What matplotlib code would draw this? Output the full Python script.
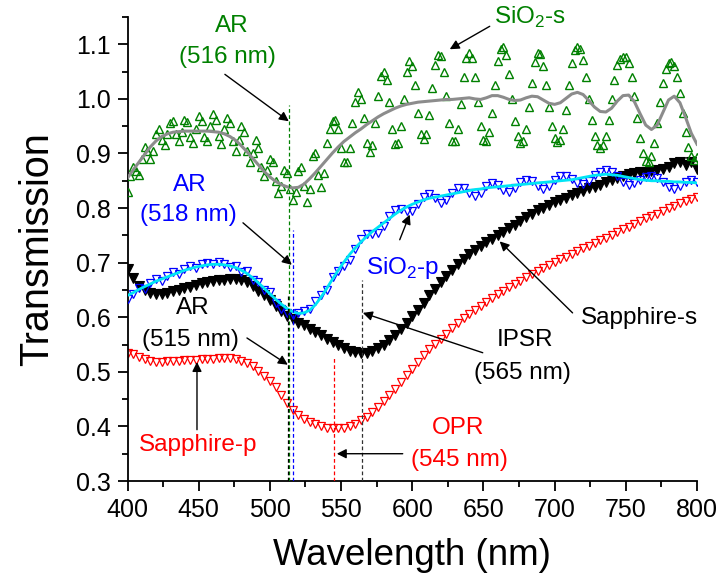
import numpy as np
import matplotlib
matplotlib.use("Agg")
import matplotlib.pyplot as plt
from matplotlib.ticker import MultipleLocator, FormatStrFormatter

plt.rcParams['font.family'] = ['Liberation Sans', 'DejaVu Sans']

# wavelength grids (nm)
wl = np.arange(400, 801, 4)      # 4 nm steps
wl_s = np.arange(400, 801, 2)    # 2 nm steps for the SiO2-s raw data

# SiO2-s raw (green triangles), 2 nm steps
sio2_s = [0.830, 0.858, 0.875, 0.868, 0.860, 0.890, 0.912, 0.905, 0.890, 0.905,
          0.935, 0.945, 0.925, 0.915, 0.935, 0.955, 0.960, 0.935, 0.922, 0.940,
          0.962, 0.958, 0.930, 0.920, 0.945, 0.968, 0.960, 0.930, 0.922, 0.950,
          0.972, 0.962, 0.932, 0.918, 0.945, 0.965, 0.955, 0.922, 0.905, 0.925,
          0.950, 0.940, 0.905, 0.885, 0.900, 0.925, 0.910, 0.875, 0.858, 0.870,
          0.890, 0.885, 0.850, 0.828, 0.840, 0.870, 0.865, 0.835, 0.815, 0.830,
          0.868, 0.875, 0.840, 0.812, 0.835, 0.895, 0.900, 0.860, 0.838, 0.865,
          0.920,
          0.945, 0.960, 0.962, 0.945, 0.910, 0.885, 0.885, 0.910, 0.955, 0.995,
          1.012, 1.000, 0.965, 0.920, 0.902, 0.915, 0.955, 1.005, 1.042, 1.050,
          1.035, 0.995, 0.945, 0.918, 0.920, 0.950, 1.000, 1.050, 1.070, 1.060,
          1.025, 0.975, 0.935, 0.926, 0.935, 0.970, 1.020, 1.062, 1.080, 1.078,
          1.050, 1.005, 0.955, 0.922, 0.922, 0.945, 0.990, 1.040, 1.075, 1.085,
          1.075, 1.040, 0.995, 0.950, 0.925, 0.922, 0.940, 0.975, 1.025, 1.070,
          1.092, 1.095, 1.080, 1.045, 1.000, 0.960, 0.932, 0.920, 0.922, 0.945,
          0.985, 1.030, 1.068, 1.085, 1.082, 1.060, 1.025, 0.985, 0.950, 0.928,
          0.921, 0.925, 0.945, 0.980, 1.025, 1.065, 1.090, 1.096, 1.092, 1.072,
          1.040, 1.000, 0.962, 0.932, 0.915, 0.910, 0.915, 0.932, 0.962, 1.000,
          1.035, 1.062, 1.074, 1.076, 1.076, 1.065, 1.040, 1.005, 0.965, 0.928,
          0.900, 0.886, 0.885, 0.895, 0.920, 0.955, 0.995, 1.030, 1.055, 1.066,
          1.067, 1.060, 1.040, 1.010, 0.975, 0.940, 0.912, 0.895, 0.888, 0.893]

# SiO2-s smoothed (gray line)
sio2_s_fit = [0.855, 0.870, 0.884, 0.898, 0.912, 0.923, 0.931, 0.936, 0.939, 0.940,
              0.941, 0.941, 0.941, 0.941, 0.941, 0.940, 0.939, 0.936, 0.931, 0.924,
              0.914, 0.903, 0.891, 0.879, 0.867, 0.857, 0.849, 0.843, 0.839, 0.837,
              0.838, 0.844, 0.854, 0.865, 0.877, 0.889, 0.901, 0.912, 0.922, 0.930,
              0.938, 0.945, 0.953, 0.960, 0.967, 0.973, 0.978, 0.983, 0.987, 0.990,
              0.992, 0.994, 0.995, 0.996, 0.997, 0.998, 0.999, 0.999, 1.000, 1.001,
              1.002, 1.000, 0.999, 1.002, 1.006, 1.006, 1.003, 0.999, 0.997, 0.998,
              1.002, 1.005, 1.004, 0.998, 0.992, 0.990, 0.993, 1.001, 1.009, 1.012,
              1.008, 0.997, 0.985, 0.977, 0.976, 0.983, 0.996, 1.006, 1.007, 0.995,
              0.973, 0.952, 0.944, 0.952, 0.975, 0.998, 1.005, 0.993, 0.966, 0.937,
              0.917]

# SiO2-p raw (blue triangles)
sio2_p = [0.634, 0.643, 0.654, 0.652, 0.663, 0.670, 0.667, 0.676, 0.682, 0.680,
          0.689, 0.694, 0.691, 0.698, 0.699, 0.698, 0.701, 0.698, 0.692, 0.693,
          0.683, 0.684, 0.668, 0.665, 0.650, 0.646, 0.627, 0.616, 0.607, 0.605,
          0.607, 0.612, 0.616, 0.629, 0.641, 0.650, 0.674, 0.684, 0.693, 0.705,
          0.725, 0.744, 0.752, 0.753, 0.755, 0.767, 0.785, 0.797, 0.798, 0.794,
          0.795, 0.807, 0.821, 0.826, 0.818, 0.810, 0.814, 0.828, 0.836, 0.836,
          0.828, 0.822, 0.827, 0.841, 0.846, 0.843, 0.834, 0.829, 0.836, 0.847,
          0.852, 0.849, 0.840, 0.835, 0.840, 0.851, 0.858, 0.859, 0.854, 0.846,
          0.844, 0.850, 0.860, 0.867, 0.870, 0.867, 0.858, 0.848, 0.843, 0.846,
          0.852, 0.857, 0.858, 0.856, 0.847, 0.839, 0.835, 0.840, 0.847, 0.851,
          0.848]

# SiO2-p smoothed (cyan line)
sio2_p_fit = [0.640, 0.645, 0.651, 0.656, 0.661, 0.666, 0.670, 0.674, 0.678, 0.682,
              0.686, 0.689, 0.692, 0.694, 0.696, 0.697, 0.697, 0.696, 0.694, 0.691,
              0.686, 0.680, 0.672, 0.663, 0.653, 0.643, 0.633, 0.624, 0.616, 0.610,
              0.607, 0.608, 0.613, 0.623, 0.637, 0.653, 0.670, 0.686, 0.701, 0.715,
              0.727, 0.738, 0.748, 0.757, 0.765, 0.773, 0.781, 0.789, 0.796, 0.802,
              0.807, 0.811, 0.815, 0.818, 0.820, 0.822, 0.824, 0.826, 0.828, 0.830,
              0.832, 0.834, 0.835, 0.837, 0.838, 0.839, 0.840, 0.841, 0.842, 0.843,
              0.844, 0.845, 0.846, 0.847, 0.848, 0.849, 0.850, 0.851, 0.852, 0.854,
              0.856, 0.858, 0.860, 0.861, 0.862, 0.861, 0.860, 0.858, 0.856, 0.854,
              0.852, 0.851, 0.850, 0.850, 0.849, 0.849, 0.848, 0.848, 0.847, 0.847,
              0.846]

# Sapphire-s (black filled triangles)
sapph_s = [0.688, 0.672, 0.658, 0.650, 0.645, 0.642, 0.643, 0.645, 0.648, 0.650,
           0.653, 0.656, 0.659, 0.662, 0.664, 0.667, 0.668, 0.669, 0.670, 0.670,
           0.668, 0.664, 0.657, 0.649, 0.640, 0.631, 0.621, 0.611, 0.602, 0.596,
           0.590, 0.585, 0.579, 0.573, 0.567, 0.561, 0.555, 0.549, 0.544, 0.539,
           0.536, 0.534, 0.535, 0.538, 0.543, 0.550, 0.558, 0.568, 0.579, 0.590,
           0.602, 0.614, 0.627, 0.640, 0.652, 0.664, 0.675, 0.686, 0.697, 0.707,
           0.716, 0.724, 0.731, 0.738, 0.744, 0.751, 0.757, 0.763, 0.769, 0.776,
           0.783, 0.790, 0.796, 0.801, 0.806, 0.811, 0.815, 0.819, 0.824, 0.828,
           0.832, 0.836, 0.839, 0.843, 0.847, 0.851, 0.855, 0.858, 0.862, 0.864,
           0.866, 0.867, 0.868, 0.870, 0.872, 0.876, 0.882, 0.885, 0.878, 0.884,
           0.872]

# Sapphire-p (red open triangles)
sapph_p = [0.535, 0.532, 0.527, 0.523, 0.520, 0.518, 0.518, 0.519, 0.520, 0.520,
           0.521, 0.522, 0.522, 0.523, 0.524, 0.524, 0.525, 0.525, 0.525, 0.523,
           0.520, 0.516, 0.510, 0.502, 0.493, 0.484, 0.472, 0.458, 0.443, 0.430,
           0.421, 0.414, 0.408, 0.404, 0.400, 0.398, 0.397, 0.397, 0.398, 0.401,
           0.405, 0.411, 0.418, 0.426, 0.436, 0.446, 0.457, 0.469, 0.482, 0.494,
           0.506, 0.518, 0.530, 0.541, 0.551, 0.561, 0.570, 0.580, 0.589, 0.598,
           0.606, 0.614, 0.621, 0.628, 0.635, 0.642, 0.649, 0.655, 0.661, 0.667,
           0.673, 0.679, 0.685, 0.690, 0.696, 0.701, 0.706, 0.711, 0.716, 0.721,
           0.726, 0.731, 0.736, 0.741, 0.746, 0.751, 0.756, 0.761, 0.766, 0.771,
           0.776, 0.781, 0.785, 0.790, 0.795, 0.800, 0.804, 0.809, 0.813, 0.817,
           0.821]

# resonance marker lines: (wavelength, top, colour)
res_lines = [(513.5, 0.988, '#008000'), (516.0, 0.760, '#0000ff'),
             (513.0, 0.640, 'k'), (545.0, 0.527, '#ff0000'), (565.0, 0.669, '#303030')]

fig = plt.figure(figsize=(7.22, 5.81), dpi=100)
ax = fig.add_axes([0.1766, 0.1721, 0.7888, 0.7986])

GREEN = '#008000'
BLUE = '#0000ff'
RED = '#ff0000'

ax.plot(wl, sapph_p, linestyle='none', marker='v', ms=6, mfc='none', mec=RED, mew=0.9, zorder=2)
ax.plot(wl, sapph_s, linestyle='none', marker='v', ms=6.5, mfc='k', mec='k', mew=0.8, zorder=3)
ax.plot(wl, sio2_p, linestyle='none', marker='v', ms=6, mfc='none', mec=BLUE, mew=0.9, zorder=4)
ax.plot(wl, sio2_p_fit, color='#00e5f5', lw=2.0, zorder=5)
ax.plot(wl_s, sio2_s, linestyle='none', marker='^', ms=6, mfc='none', mec=GREEN, mew=1.0, zorder=4)
ax.plot(wl, sio2_s_fit, color='#8c8c8c', lw=2.2, zorder=5)

for x, top, c in res_lines:
    ax.plot([x, x], [0.3, top], color=c, lw=0.9, dashes=(3, 2), zorder=6)

ax.set_xlim(400, 800)
ax.set_ylim(0.3, 1.15)
ax.xaxis.set_major_locator(MultipleLocator(50))
ax.xaxis.set_minor_locator(MultipleLocator(25))
ax.yaxis.set_minor_locator(MultipleLocator(0.05))
ax.set_yticks(np.arange(0.3, 1.11, 0.1))
ax.yaxis.set_major_formatter(FormatStrFormatter('%.1f'))

for s in ['top', 'right']:
    ax.spines[s].set_visible(False)
for s in ['left', 'bottom']:
    ax.spines[s].set_linewidth(1.3)
ax.tick_params(which='major', direction='out', length=7, width=1.3, labelsize=18, pad=5)
ax.tick_params(which='minor', direction='out', length=4, width=1.3)

ax.set_xlabel('Wavelength (nm)', fontsize=26.5, labelpad=12)
ax.set_ylabel('Transmission', fontsize=28.5, labelpad=14)

fs = 17.5

def label(x, y, s, c):
    ax.text(x, y, s, color=c, fontsize=fs, ha='center', va='center', zorder=8)

def arrow(tail, head):
    ax.annotate('', xy=head, xytext=tail,
                arrowprops=dict(arrowstyle='-|>', color='k', lw=1.0,
                                mutation_scale=14, shrinkA=0, shrinkB=0), zorder=8)

label(473.3, 1.133, 'AR', GREEN)
label(470.5, 1.076, '(516 nm)', GREEN)
arrow((468.4, 1.045), (513.3, 0.959))

label(682.5, 1.150, r'SiO$_\mathregular{2}$-s', GREEN)
arrow((654.4, 1.133), (626.3, 1.091))

label(443.9, 0.843, 'AR', BLUE)
label(442.5, 0.788, '(518 nm)', BLUE)
arrow((481.1, 0.773), (515.4, 0.696))

label(593.3, 0.690, r'SiO$_\mathregular{2}$-p', BLUE)
arrow((591.2, 0.742), (598.2, 0.788))

label(446.0, 0.617, 'AR', 'k')
label(443.9, 0.559, '(515 nm)', 'k')
arrow((483.9, 0.562), (512.6, 0.513))

label(678.9, 0.559, 'IPSR', 'k')
label(677.5, 0.498, '(565 nm)', 'k')
arrow((649.5, 0.535), (565.3, 0.608))

label(759.6, 0.599, 'Sapphire-s', 'k')
arrow((712.6, 0.608), (661.4, 0.739))

label(449.5, 0.366, 'Sapphire-p', RED)
arrow((448.8, 0.394), (448.8, 0.518))

label(631.9, 0.397, 'OPR', RED)
label(633.3, 0.339, '(545 nm)', RED)
arrow((593.3, 0.350), (547.0, 0.350))

fig.savefig('out.png', dpi=100)
